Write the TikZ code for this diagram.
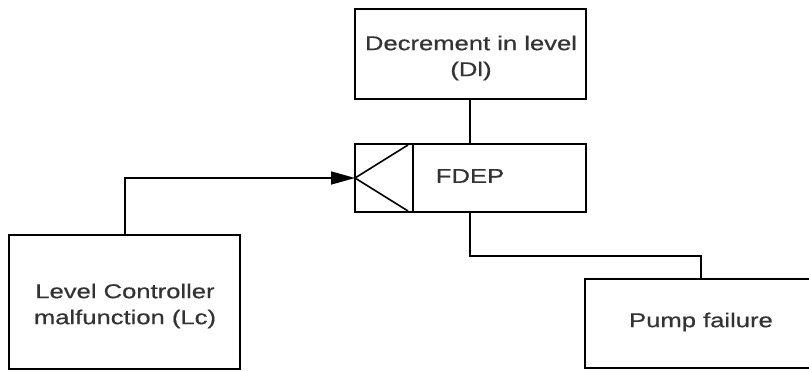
\documentclass[tikz,border=0pt]{standalone}
\usepackage{fontspec}
\newfontfamily\labfont[FakeStretch=1.28, FakeBold=0.6]{Liberation Sans}
\usetikzlibrary{arrows.meta}
\begin{document}
\begin{tikzpicture}[x=1pt,y=-1pt,
  box/.style={draw, line width=1.6pt, inner sep=0pt},
  wire/.style={line width=1.6pt},
  lab/.style={font=\labfont\fontsize{20}{26}\selectfont, text=black!80, align=center}]
\useasboundingbox (0,0) rectangle (809,371);
\clip (0,0) rectangle (809,371);

% event boxes
\draw[box] (355,9) rectangle (586,99);
\node[lab] (dl) at (471,58) {Decrement in level\\(Dl)};
\coordinate (dlb) at (470,99);

\draw[box] (9,235) rectangle (240,369);
\node[lab] (lc) at (125,306) {Level Controller\\malfunction (Lc)};
\coordinate (lct) at (125,235);

\draw[box] (585,279) rectangle (830,368);
\node[lab] (pf) at (701,322) {Pump failure};
\coordinate (pft) at (701,279);

% FDEP gate
\draw[box] (355,144) rectangle (586,212);
\draw[wire] (413,144) -- (413,212);
\coordinate (trig) at (355,178);
\draw[wire] (408,145) -- (trig) -- (408,211);
\node[lab] (fdep) at (470,176) {FDEP};
\coordinate (ft) at (470,144);
\coordinate (fb) at (470,212);

% connectors
\draw[wire] (dlb) -- (ft);
\draw[wire, -{Triangle[length=24pt,width=13pt]}] (lct) |- (trig);
\draw[wire] (fb) -- (470,256) -| (pft);
\end{tikzpicture}
\end{document}
